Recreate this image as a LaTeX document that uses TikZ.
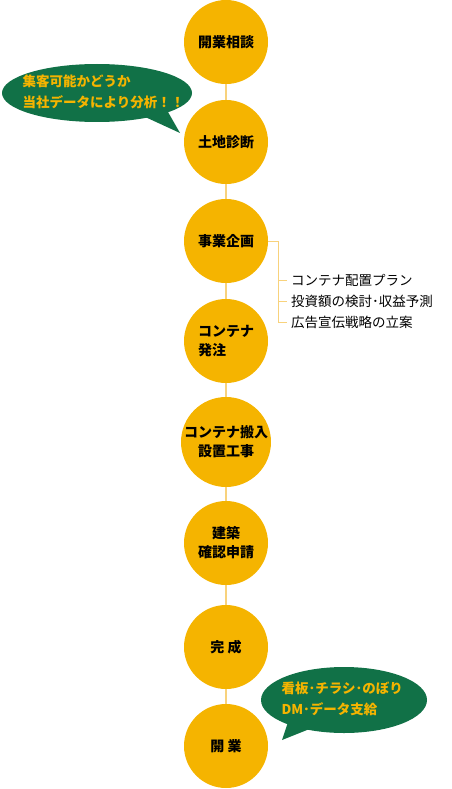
\documentclass[tikz,border=0pt]{standalone}
\usepackage{fontspec}
\setmainfont{Noto Sans CJK JP}
\usepackage{tikz}
\usetikzlibrary{positioning, calc}
\definecolor{kigold}{HTML}{F5B400}
\definecolor{senki}{HTML}{F8D27C}
\definecolor{midori}{HTML}{117147}

\tikzset{
  stufe/.style={circle, fill=kigold, minimum size=84pt, inner sep=0pt,
                font=\bfseries\fontsize{14}{19}\selectfont},
  verbind/.style={senki, line width=2pt},
  klammer/.style={senki, line width=0.9pt},
  punkt/.style={anchor=west, inner xsep=4pt, font=\fontsize{13.5}{16}\selectfont},
  blase/.style={fill=midori},
  blasetext/.style={anchor=west, text=kigold, align=left,
                    font=\bfseries\fontsize{13.5}{20.5}\selectfont}
}

\begin{document}
\begin{tikzpicture}[x=1pt, y=-1pt]
  \useasboundingbox (0,0) rectangle (451,789);
  % Schritte
  \foreach \n/\y/\al/\txt in {1/42/center/{開業相談}, 2/142/center/{土地診断},
      3/241/center/{事業企画}, 4/341/left/{コンテナ\\発注},
      5/442/center/{コンテナ搬入\\設置工事}, 6/543/center/{建築\\確認申請},
      7/647/center/{完 成}, 8/746/center/{開 業}}
    \node[stufe, align=\al] (c\n) at (226,\y) {\txt};
  \foreach \a/\b in {1/2, 2/3, 3/4, 4/5, 5/6, 6/7, 7/8}
    \draw[verbind] (c\a) -- (c\b);
  % Liste
  \node[punkt] (it1) at (287,280) {コンテナ配置プラン};
  \node[punkt] (it2) at (287,301) {投資額の検討･収益予測};
  \node[punkt] (it3) at (287,322) {広告宣伝戦略の立案};
  \draw[klammer] (c3.east) -- ++(10,0) coordinate (br) |- (it3.west);
  \draw[klammer] (br |- it1.west) -- (it1.west);
  \draw[klammer] (br |- it2.west) -- (it2.west);
  % Blasen
  \fill[blase] (97,93) ellipse [x radius=95, y radius=29];
  \fill[blase] (143,116) -- (180,133) -- (168,112) -- cycle;
  \node[blasetext] (b1) at (19,92) {集客可能かどうか\\当社データにより分析！！};
  \fill[blase] (344,700) ellipse [x radius=83, y radius=33];
  \fill[blase] (288,722) -- (282,740) -- (312,728) -- cycle;
  \node[blasetext] (b2) at (278,699) {看板･チラシ･のぼり\\DM･データ支給};
\end{tikzpicture}
\end{document}
